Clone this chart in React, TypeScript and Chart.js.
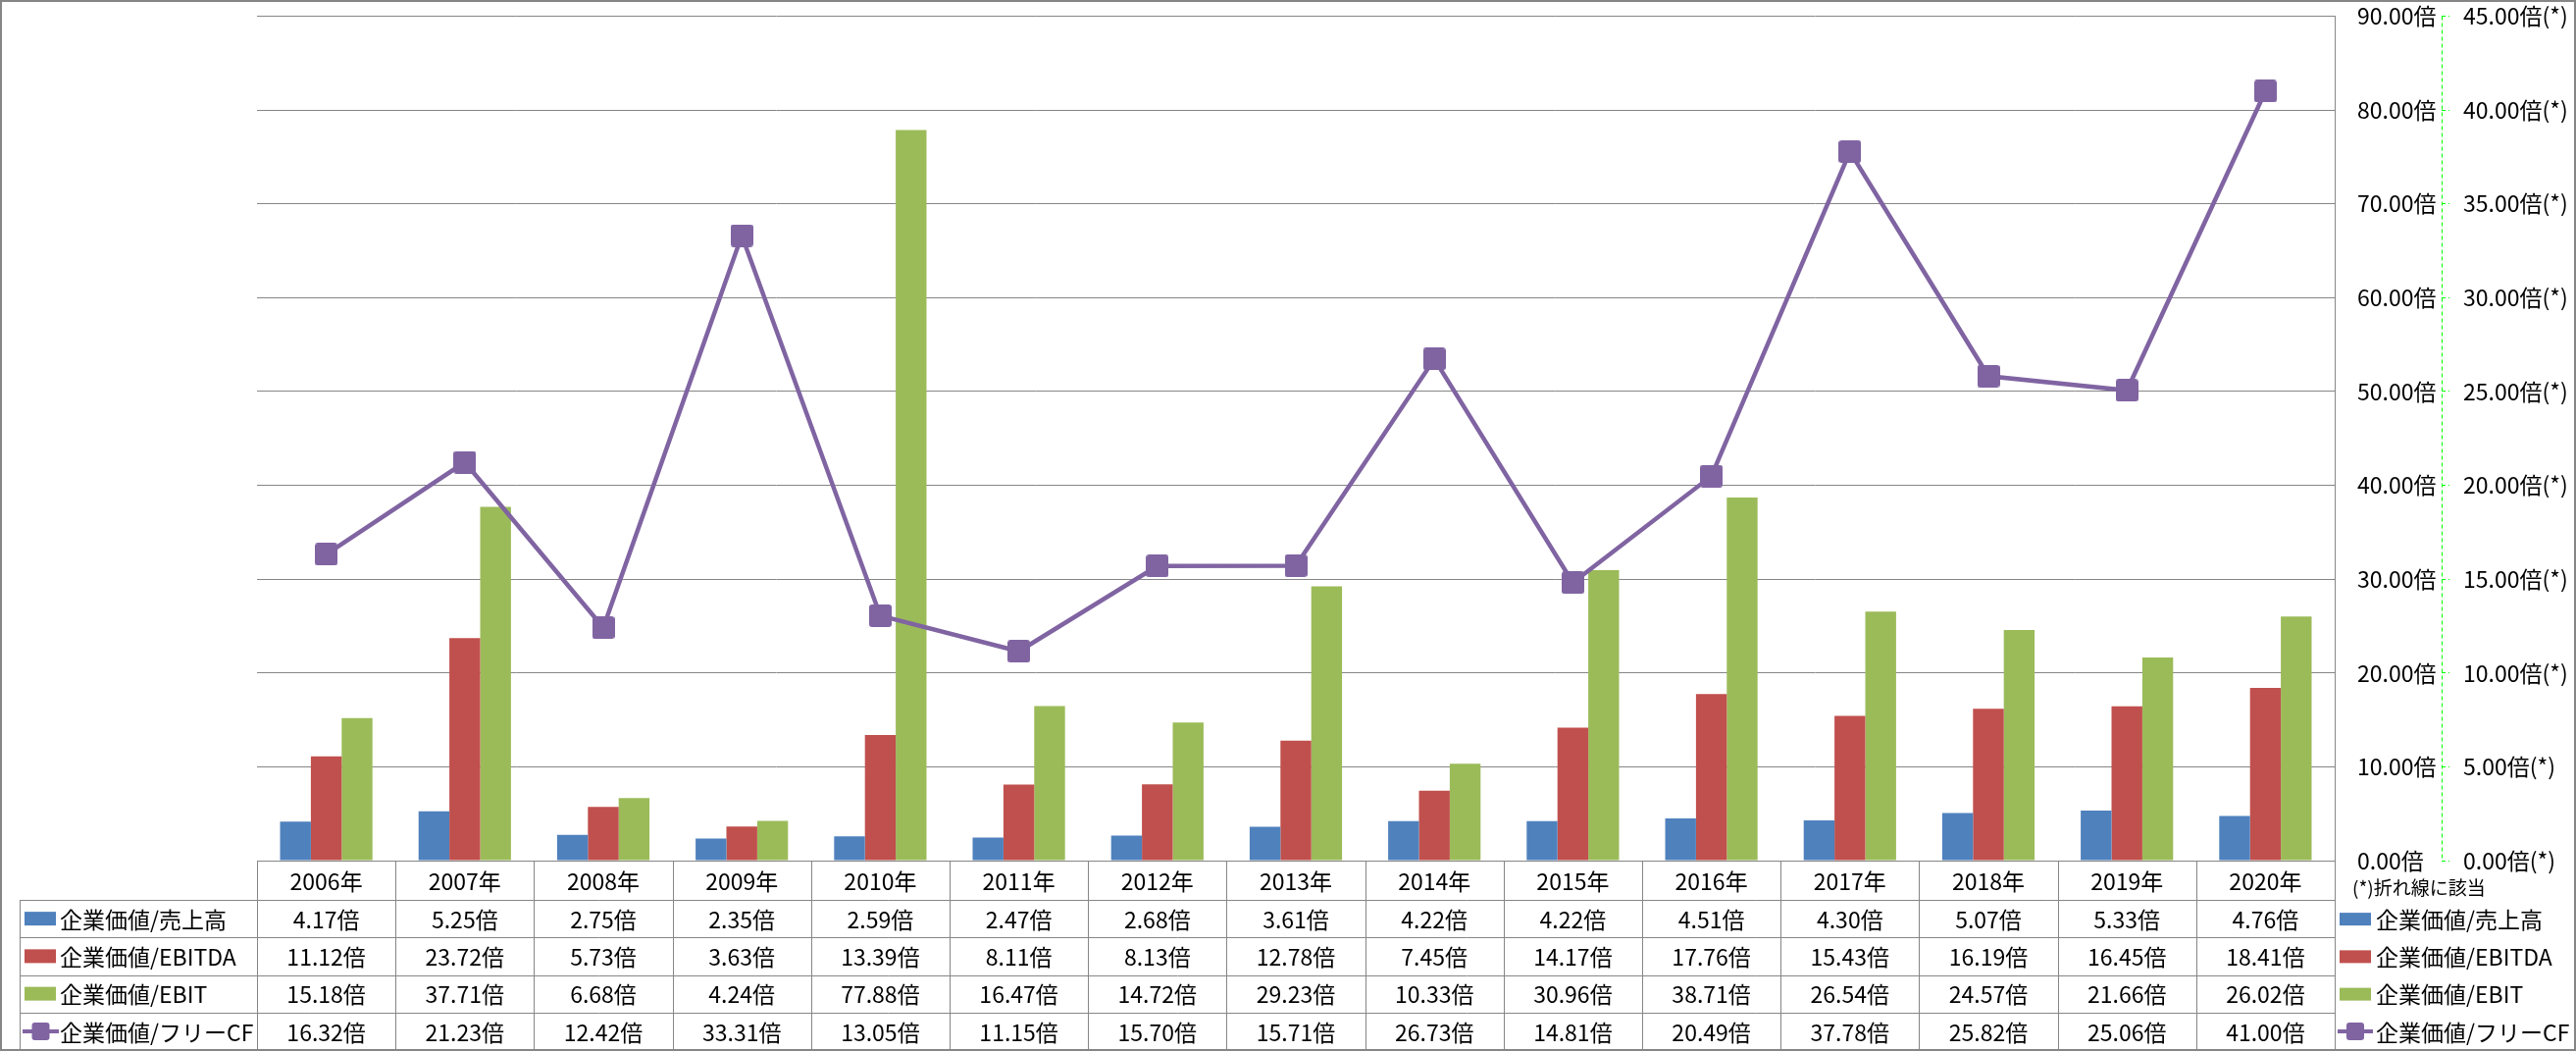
import React, { useEffect, useRef } from 'react';
import { Chart, registerables } from 'chart.js';

Chart.register(...registerables);

const categories = ['2006年', '2007年', '2008年', '2009年', '2010年', '2011年', '2012年', '2013年', '2014年', '2015年', '2016年', '2017年', '2018年', '2019年', '2020年'];
const salesMultiple = [4.17, 5.25, 2.75, 2.35, 2.59, 2.47, 2.68, 3.61, 4.22, 4.22, 4.51, 4.30, 5.07, 5.33, 4.76];
const ebitdaMultiple = [11.12, 23.72, 5.73, 3.63, 13.39, 8.11, 8.13, 12.78, 7.45, 14.17, 17.76, 15.43, 16.19, 16.45, 18.41];
const ebitMultiple = [15.18, 37.71, 6.68, 4.24, 77.88, 16.47, 14.72, 29.23, 10.33, 30.96, 38.71, 26.54, 24.57, 21.66, 26.02];
const fcfMultiple = [16.32, 21.23, 12.42, 33.31, 13.05, 11.15, 15.70, 15.71, 26.73, 14.81, 20.49, 37.78, 25.82, 25.06, 41.00];
const seriesNames = ['企業価値/売上高', '企業価値/EBITDA', '企業価値/EBIT', '企業価値/フリーCF'];
const seriesColors = ['#4F81BD', '#C0504D', '#9BBB59', '#8064A2'];
const primaryAxis = { min: 0, max: 90, step: 10, suffix: '倍' };
const secondaryAxis = { min: 0, max: 45, step: 5, suffix: '倍(*)' };
const secondaryNote = '(*)折れ線に該当';

const FONT = '"Noto Sans CJK JP", "Noto Sans", sans-serif';
const GRID = '#868686';
const AXIS_GREEN = '#00FF00';

function makeMarker(size: number, color: string) {
  const c = document.createElement('canvas');
  c.width = size;
  c.height = size;
  const g = c.getContext('2d')!;
  g.fillStyle = color;
  g.beginPath();
  (g as any).roundRect(0, 0, size, size, 3);
  g.fill();
  return c;
}

function drawLineKey(ctx: CanvasRenderingContext2D, x1: number, x2: number, y: number) {
  ctx.save();
  ctx.strokeStyle = seriesColors[3];
  ctx.lineWidth = 4;
  ctx.beginPath();
  ctx.moveTo(x1, y);
  ctx.lineTo(x2, y);
  ctx.stroke();
  const cx = (x1 + x2) / 2;
  ctx.fillStyle = seriesColors[3];
  ctx.beginPath();
  (ctx as any).roundRect(cx - 9, y - 9, 18, 18, 3);
  ctx.fill();
  ctx.restore();
}

const tablePlugin = {
  id: 'dataTable',
  afterDraw(chart: any) {
    const ctx: CanvasRenderingContext2D = chart.ctx;
    const area = chart.chartArea;
    const xs = chart.scales.x;
    const y1 = chart.scales.y1;
    const n = categories.length;
    const colW = (area.right - area.left) / n;
    const top = area.bottom;
    const headerH = 40;
    const rowH = 38.25;
    const rowY = [top, top + headerH];
    for (let i = 1; i <= 4; i++) rowY.push(top + headerH + rowH * i);
    const legendLeft = 20;
    const crisp = (v: number) => Math.round(v) + 0.5;

    ctx.save();
    // secondary axis dashed line
    ctx.strokeStyle = AXIS_GREEN;
    ctx.lineWidth = 1;
    ctx.setLineDash([4, 3]);
    ctx.beginPath();
    ctx.moveTo(crisp(y1.left), area.top);
    ctx.lineTo(crisp(y1.left), area.bottom + 0.5);
    ctx.stroke();
    ctx.setLineDash([]);

    ctx.strokeStyle = GRID;
    ctx.lineWidth = 1;
    ctx.beginPath();
    ctx.moveTo(area.left, crisp(rowY[0]));
    ctx.lineTo(area.right, crisp(rowY[0]));
    for (let i = 1; i < rowY.length; i++) {
      ctx.moveTo(legendLeft, crisp(rowY[i]));
      ctx.lineTo(area.right + 1, crisp(rowY[i]));
    }
    for (let k = 0; k <= n; k++) {
      const x = crisp(area.left + k * colW);
      ctx.moveTo(x, rowY[0]);
      ctx.lineTo(x, rowY[rowY.length - 1]);
    }
    ctx.moveTo(crisp(legendLeft), rowY[1]);
    ctx.lineTo(crisp(legendLeft), rowY[rowY.length - 1]);
    ctx.stroke();

    ctx.fillStyle = '#000';
    ctx.textAlign = 'center';
    ctx.textBaseline = 'middle';
    ctx.font = `23px ${FONT}`;
    const series = [salesMultiple, ebitdaMultiple, ebitMultiple, fcfMultiple];
    for (let i = 0; i < n; i++) {
      const cx = xs.getPixelForValue(i);
      ctx.fillText(categories[i], cx, (rowY[0] + rowY[1]) / 2 + 1);
      for (let s = 0; s < 4; s++) {
        ctx.fillText(series[s][i].toFixed(2) + '倍', cx, (rowY[s + 1] + rowY[s + 2]) / 2 + 1);
      }
    }

    ctx.textAlign = 'left';
    for (let s = 0; s < 4; s++) {
      const cy = (rowY[s + 1] + rowY[s + 2]) / 2;
      if (s < 3) {
        ctx.fillStyle = seriesColors[s];
        ctx.fillRect(25, cy - 7, 32, 14);
        ctx.fillRect(2385, cy - 6, 32, 13);
      } else {
        drawLineKey(ctx, 23, 60, cy);
        drawLineKey(ctx, 2383, 2419, cy);
      }
      ctx.fillStyle = '#000';
      ctx.fillText(seriesNames[s], 61, cy + 1);
      ctx.fillText(seriesNames[s], 2422, cy + 1);
    }
    ctx.font = `19px ${FONT}`;
    ctx.fillText(secondaryNote, 2398, 905);

    ctx.strokeStyle = GRID;
    ctx.lineWidth = 2;
    ctx.strokeRect(1, 1, chart.width - 2, chart.height - 2);
    ctx.restore();
  },
};

export default function App() {
  const ref = useRef<HTMLCanvasElement | null>(null);
  useEffect(() => {
    document.body.style.margin = '0';
    Chart.defaults.font.family = FONT;
    Chart.defaults.color = '#000';
    const marker = makeMarker(23, seriesColors[3]);
    const chart = new Chart(ref.current!, {
      type: 'bar',
      data: {
        labels: categories,
        datasets: [
          {
            type: 'line',
            label: seriesNames[3],
            data: fcfMultiple,
            yAxisID: 'y1',
            borderColor: seriesColors[3],
            backgroundColor: seriesColors[3],
            borderWidth: 4.5,
            pointStyle: marker as any,
            pointRadius: 12,
            tension: 0,
            order: 0,
          } as any,
          {
            label: seriesNames[0],
            data: salesMultiple,
            backgroundColor: seriesColors[0],
            yAxisID: 'y',
            categoryPercentage: 0.667,
            barPercentage: 1,
            order: 1,
          },
          {
            label: seriesNames[1],
            data: ebitdaMultiple,
            backgroundColor: seriesColors[1],
            yAxisID: 'y',
            categoryPercentage: 0.667,
            barPercentage: 1,
            order: 1,
          },
          {
            label: seriesNames[2],
            data: ebitMultiple,
            backgroundColor: seriesColors[2],
            yAxisID: 'y',
            categoryPercentage: 0.667,
            barPercentage: 1,
            order: 1,
          },
        ],
      },
      options: {
        responsive: false,
        animation: false,
        layout: { padding: { left: 262, right: 0, top: 16, bottom: 194 } },
        plugins: { legend: { display: false }, tooltip: { enabled: false } },
        scales: {
          x: { display: false },
          y: {
            position: 'right',
            weight: 0,
            min: primaryAxis.min,
            max: primaryAxis.max,
            ticks: {
              stepSize: primaryAxis.step,
              padding: 23,
              font: { size: 23, family: FONT },
              color: '#000',
              callback: (v: any) => Number(v).toFixed(2) + primaryAxis.suffix,
            },
            grid: { color: GRID, lineWidth: 1, drawTicks: false },
            border: { display: true, color: GRID, width: 1 },
            afterFit: (s: any) => { s.width = 109; s.paddingTop = 0; s.paddingBottom = 0; },
          },
          y1: {
            position: 'right',
            weight: 1,
            min: secondaryAxis.min,
            max: secondaryAxis.max,
            ticks: {
              stepSize: secondaryAxis.step,
              padding: 14,
              font: { size: 23, family: FONT },
              color: '#000',
              callback: (v: any) => Number(v).toFixed(2) + secondaryAxis.suffix,
            },
            grid: {
              drawOnChartArea: false,
              drawTicks: true,
              tickLength: 8,
              tickColor: AXIS_GREEN,
              tickBorderDash: [4, 3],
              tickWidth: 1,
            } as any,
            border: { display: false },
            afterFit: (s: any) => { s.width = 137; s.paddingTop = 0; s.paddingBottom = 0; },
          },
        },
      },
      plugins: [tablePlugin],
    });
    return () => chart.destroy();
  }, []);
  return (
    <div style={{ width: 2626, height: 1071 }}>
      <canvas ref={ref} width={2626} height={1071} style={{ display: 'block' }} />
    </div>
  );
}
